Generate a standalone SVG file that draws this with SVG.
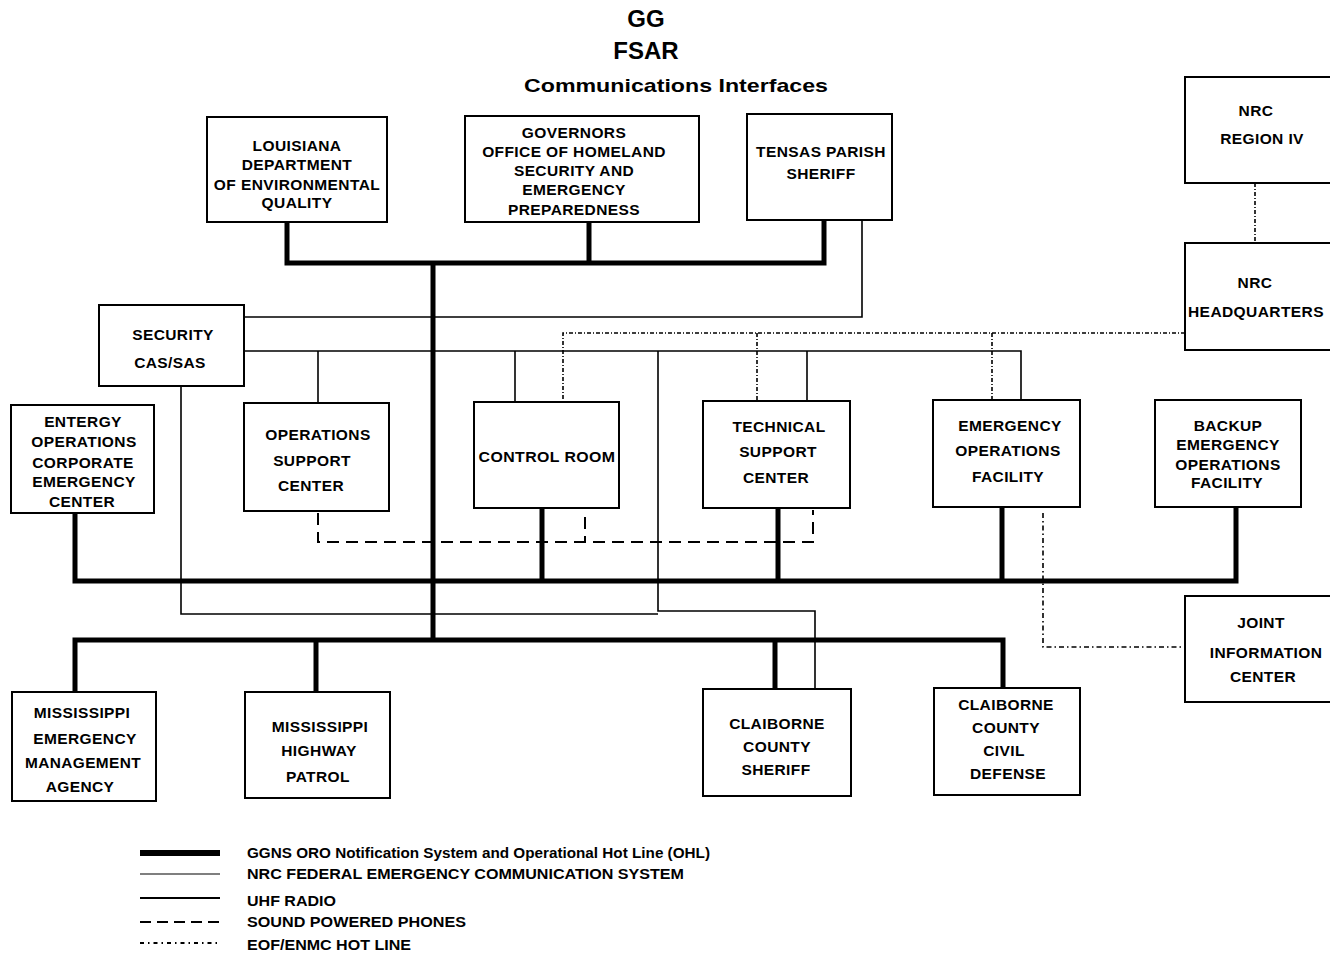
<svg xmlns="http://www.w3.org/2000/svg" width="1330" height="956" viewBox="0 0 1330 956">
<style>
  .box{fill:#fff;stroke:#000;stroke-width:2}
  .t{font-family:"Liberation Sans",Arial,sans-serif;font-weight:bold;font-size:15.5px;letter-spacing:0.4px;fill:#000;text-anchor:middle}
  .title{font-family:"Liberation Sans",Arial,sans-serif;font-weight:bold;fill:#000;text-anchor:middle}
  .lg{font-family:"Liberation Sans",Arial,sans-serif;font-weight:bold;font-size:14px;fill:#000}
  .ohl{fill:none;stroke:#000;stroke-width:5}
  .thin{fill:none;stroke:#000;stroke-width:1.6}
  .uhf{fill:none;stroke:#000;stroke-width:2}
  .spp{fill:none;stroke:#000;stroke-width:2;stroke-dasharray:12 7}
  .hot{fill:none;stroke:#000;stroke-width:1.6;stroke-dasharray:4 2 1 2}
</style>
<rect width="1330" height="956" fill="#fff"/>

<g id="title">
  <text class="title" x="646" y="27" font-size="24">GG</text>
  <text class="title" x="646" y="59" font-size="24">FSAR</text>
  <text class="title" x="676" y="92" font-size="19" textLength="304" lengthAdjust="spacingAndGlyphs">Communications Interfaces</text>
</g>

<g id="connectors">
  <!-- OHL thick -->
  <path class="ohl" d="M287 222 V263 H824 V220"/>
  <path class="ohl" d="M589 222 V263"/>
  <path class="ohl" d="M433 263 V640"/>
  <path class="ohl" d="M75 513 V581 H1236 V507"/>
  <path class="ohl" d="M542 508 V581"/>
  <path class="ohl" d="M778 508 V581"/>
  <path class="ohl" d="M1002 507 V581"/>
  <path class="ohl" d="M75 692 V640 H1003 V688"/>
  <path class="ohl" d="M316 692 V640"/>
  <path class="ohl" d="M775 689 V640"/>
  <!-- thin lines -->
  <path class="thin" d="M862 220 V317 H244"/>
  <path class="thin" d="M244 351 H1021 V400"/>
  <path class="thin" d="M318 351 V403"/>
  <path class="thin" d="M515 351 V402"/>
  <path class="thin" d="M807 351 V401"/>
  <path class="thin" d="M658 351 V611 H815 V689"/>
  <path class="thin" d="M181 386 V614 H658"/>
  <!-- sound powered phones -->
  <path class="spp" d="M318 513 V542 H813 V510"/>
  <path class="spp" d="M585 517 V542"/>
  <!-- EOF/ENMC hot line -->
  <path class="hot" d="M1185 333 H563 V402"/>
  <path class="hot" d="M757 333 V401"/>
  <path class="hot" d="M992 333 V400"/>
  <path class="hot" d="M1255 183 V243"/>
  <path class="hot" d="M1043 513 V647 H1185" style="stroke-dasharray:5 3 1.5 3"/>
</g>

<g id="louisiana">
  <rect class="box" x="207" y="117" width="180" height="105"/>
  <text class="t" x="297" y="151">LOUISIANA</text>
  <text class="t" x="297" y="170">DEPARTMENT</text>
  <text class="t" x="297" y="190">OF ENVIRONMENTAL</text>
  <text class="t" x="297" y="208">QUALITY</text>
</g>
<g id="governors">
  <rect class="box" x="465" y="116" width="234" height="106"/>
  <text class="t" x="574" y="138">GOVERNORS</text>
  <text class="t" x="574" y="157">OFFICE OF HOMELAND</text>
  <text class="t" x="574" y="176">SECURITY AND</text>
  <text class="t" x="574" y="195">EMERGENCY</text>
  <text class="t" x="574" y="215">PREPAREDNESS</text>
</g>
<g id="tensas">
  <rect class="box" x="747" y="114" width="145" height="106"/>
  <text class="t" x="821" y="157">TENSAS PARISH</text>
  <text class="t" x="821" y="179">SHERIFF</text>
</g>
<g id="nrc-region-iv">
  <rect class="box" x="1185" y="77" width="150" height="106"/>
  <text class="t" x="1256" y="116">NRC</text>
  <text class="t" x="1262" y="144">REGION IV</text>
</g>
<g id="nrc-hq">
  <rect class="box" x="1185" y="243" width="150" height="107"/>
  <text class="t" x="1255" y="288">NRC</text>
  <text class="t" x="1256" y="317" textLength="136" lengthAdjust="spacingAndGlyphs">HEADQUARTERS</text>
</g>
<g id="security">
  <rect class="box" x="99" y="305" width="145" height="81"/>
  <text class="t" x="173" y="340">SECURITY</text>
  <text class="t" x="170" y="368">CAS/SAS</text>
</g>
<g id="entergy">
  <rect class="box" x="11" y="405" width="143" height="108"/>
  <text class="t" x="83" y="427">ENTERGY</text>
  <text class="t" x="84" y="447">OPERATIONS</text>
  <text class="t" x="83" y="468">CORPORATE</text>
  <text class="t" x="84" y="487">EMERGENCY</text>
  <text class="t" x="82" y="507">CENTER</text>
</g>
<g id="osc">
  <rect class="box" x="244" y="403" width="145" height="108"/>
  <text class="t" x="318" y="440">OPERATIONS</text>
  <text class="t" x="312" y="466">SUPPORT</text>
  <text class="t" x="311" y="491">CENTER</text>
</g>
<g id="control-room">
  <rect class="box" x="474" y="402" width="145" height="106"/>
  <text class="t" x="547" y="462" textLength="137" lengthAdjust="spacingAndGlyphs">CONTROL ROOM</text>
</g>
<g id="tsc">
  <rect class="box" x="703" y="401" width="147" height="107"/>
  <text class="t" x="779" y="432">TECHNICAL</text>
  <text class="t" x="778" y="457">SUPPORT</text>
  <text class="t" x="776" y="483">CENTER</text>
</g>
<g id="eof">
  <rect class="box" x="933" y="400" width="147" height="107"/>
  <text class="t" x="1010" y="431">EMERGENCY</text>
  <text class="t" x="1008" y="456">OPERATIONS</text>
  <text class="t" x="1008" y="482">FACILITY</text>
</g>
<g id="backup-eof">
  <rect class="box" x="1155" y="400" width="146" height="107"/>
  <text class="t" x="1228" y="431">BACKUP</text>
  <text class="t" x="1228" y="450">EMERGENCY</text>
  <text class="t" x="1228" y="470">OPERATIONS</text>
  <text class="t" x="1227" y="488">FACILITY</text>
</g>
<g id="jic">
  <rect class="box" x="1185" y="596" width="150" height="106"/>
  <text class="t" x="1261" y="628">JOINT</text>
  <text class="t" x="1266" y="658">INFORMATION</text>
  <text class="t" x="1263" y="682">CENTER</text>
</g>
<g id="mema">
  <rect class="box" x="12" y="692" width="144" height="109"/>
  <text class="t" x="82" y="718">MISSISSIPPI</text>
  <text class="t" x="85" y="744">EMERGENCY</text>
  <text class="t" x="83" y="768" textLength="116" lengthAdjust="spacingAndGlyphs">MANAGEMENT</text>
  <text class="t" x="80" y="792">AGENCY</text>
</g>
<g id="mhp">
  <rect class="box" x="245" y="692" width="145" height="106"/>
  <text class="t" x="320" y="732">MISSISSIPPI</text>
  <text class="t" x="319" y="756">HIGHWAY</text>
  <text class="t" x="318" y="782">PATROL</text>
</g>
<g id="claiborne-sheriff">
  <rect class="box" x="703" y="689" width="148" height="107"/>
  <text class="t" x="777" y="729">CLAIBORNE</text>
  <text class="t" x="777" y="752">COUNTY</text>
  <text class="t" x="776" y="775">SHERIFF</text>
</g>
<g id="claiborne-civil-defense">
  <rect class="box" x="934" y="688" width="146" height="107"/>
  <text class="t" x="1006" y="710">CLAIBORNE</text>
  <text class="t" x="1006" y="733">COUNTY</text>
  <text class="t" x="1004" y="756">CIVIL</text>
  <text class="t" x="1008" y="779">DEFENSE</text>
</g>

<g id="legend">
  <line class="ohl" x1="140" y1="853" x2="220" y2="853" style="stroke-width:6"/>
  <line class="thin" x1="140" y1="874" x2="220" y2="874" style="stroke-width:1.2"/>
  <line class="uhf" x1="140" y1="898" x2="220" y2="898"/>
  <line class="spp" x1="140" y1="922" x2="220" y2="922" style="stroke-dasharray:11 6"/>
  <line class="hot" x1="140" y1="943" x2="220" y2="943" style="stroke-width:1.8;stroke-dasharray:4 4 1.5 4"/>
  <text class="lg" x="247" y="858" textLength="463" lengthAdjust="spacingAndGlyphs">GGNS ORO Notification System and Operational Hot Line (OHL)</text>
  <text class="lg" x="247" y="879" textLength="437" lengthAdjust="spacingAndGlyphs">NRC FEDERAL EMERGENCY COMMUNICATION SYSTEM</text>
  <text class="lg" x="247" y="906" textLength="89" lengthAdjust="spacingAndGlyphs">UHF RADIO</text>
  <text class="lg" x="247" y="927" textLength="219" lengthAdjust="spacingAndGlyphs">SOUND POWERED PHONES</text>
  <text class="lg" x="247" y="950" textLength="164" lengthAdjust="spacingAndGlyphs">EOF/ENMC HOT LINE</text>
</g>
</svg>
